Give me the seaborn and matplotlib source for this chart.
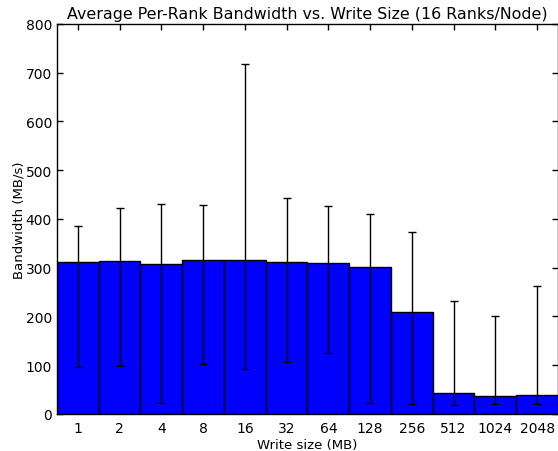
import matplotlib
matplotlib.use("Agg")
import matplotlib.pyplot as plt
import seaborn as sns
import numpy as np

sizes = ["1", "2", "4", "8", "16", "32", "64", "128", "256", "512", "1024", "2048"]
bw_mean = [312, 313, 307, 316, 315, 312, 309, 302, 209, 42, 37, 38]
bw_max = [386, 422, 430, 429, 718, 443, 426, 409, 372, 231, 200, 262]
bw_min = [96, 98, 23, 102, 92, 107, 124, 23, 21, 19, 20, 20]

sns.set_style("ticks", {"xtick.direction": "in", "ytick.direction": "in"})
plt.rcParams["font.family"] = ["DejaVu Sans"]
plt.rcParams["xtick.top"] = True
plt.rcParams["ytick.right"] = True
plt.rcParams["text.color"] = "black"
plt.rcParams["axes.labelcolor"] = "black"
plt.rcParams["xtick.color"] = "black"
plt.rcParams["ytick.color"] = "black"

fig = plt.figure(figsize=(5.58, 4.52), dpi=100)
ax = fig.add_axes([0.102, 0.082, 0.898, 0.8633])

sns.barplot(x=sizes, y=bw_mean, color="blue", saturation=1, width=1,
            edgecolor="black", linewidth=1, ax=ax)

mean = np.array(bw_mean)
yerr = [mean - np.array(bw_min), np.array(bw_max) - mean]
ax.errorbar(np.arange(len(sizes)), mean, yerr=yerr, fmt="none",
            ecolor="black", elinewidth=1, capsize=3, capthick=1)

ax.set_xlim(-0.5, len(sizes) - 0.5)
ax.set_ylim(0, 800)
ax.set_yticks(range(0, 801, 100))
ax.tick_params(axis="both", labelsize=10, length=4, width=1, top=True, right=True)
ax.tick_params(axis="x", pad=5)
for s in ax.spines.values():
    s.set_visible(True)
    s.set_linewidth(1)
    s.set_color("black")

ax.set_title("Average Per-Rank Bandwidth vs. Write Size (16 Ranks/Node)", fontsize=11.4, pad=4)
ax.set_xlabel("Write size (MB)", fontsize=9.5, labelpad=2)
ax.set_ylabel("Bandwidth (MB/s)", fontsize=9.5, labelpad=0)

fig.savefig("out.png", dpi=100)
